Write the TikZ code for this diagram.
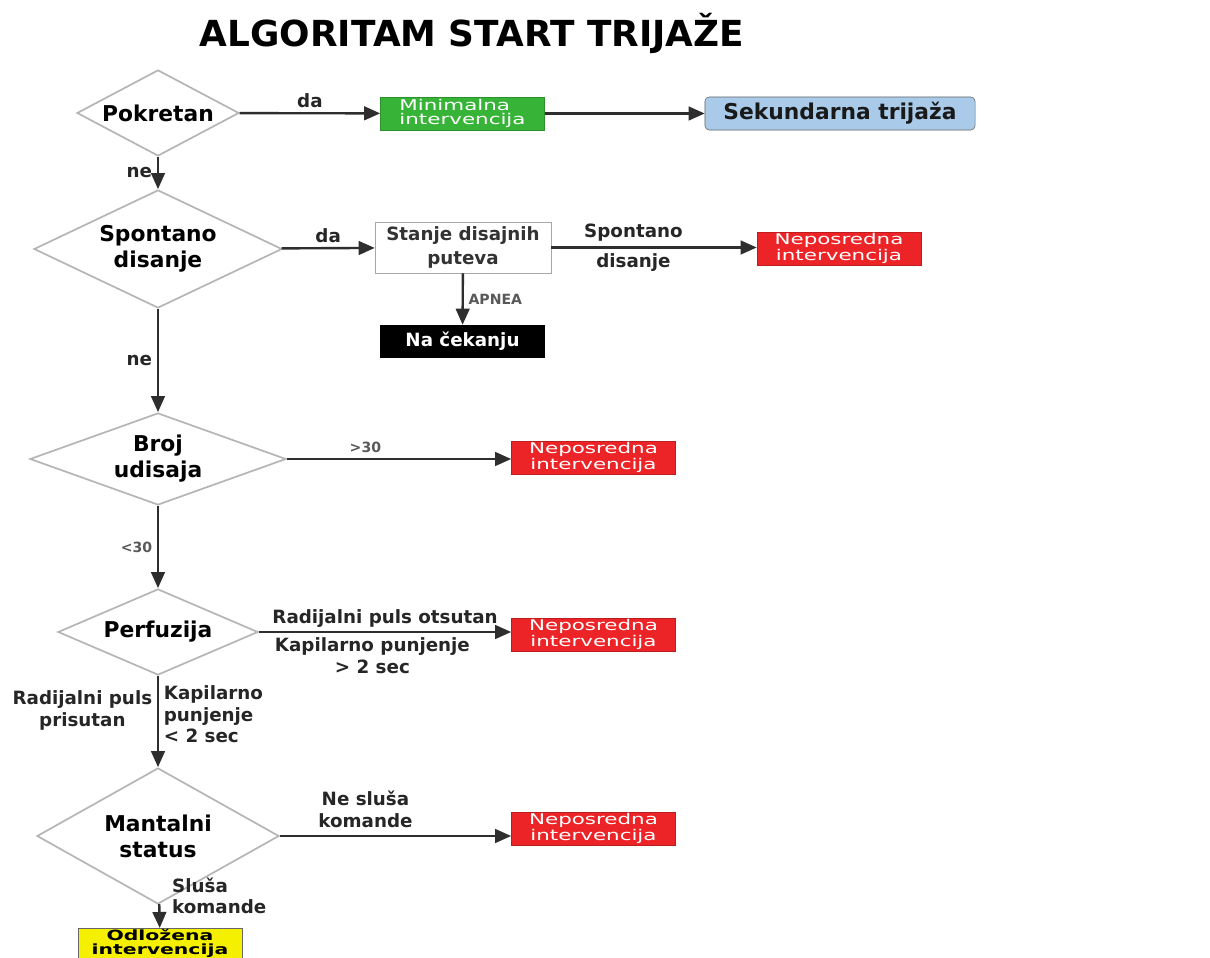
\documentclass[tikz,border=0pt]{standalone}
\usepackage{fontspec}
\setmainfont{DejaVu Sans}
\newfontfamily\boxfont[FakeStretch=1.45]{DejaVu Sans}
\usetikzlibrary{arrows.meta, shapes.geometric}
\definecolor{diagray}{HTML}{B5B5B5}
\definecolor{linegray}{HTML}{2E2E2E}
\definecolor{tagred}{HTML}{EC2427}
\definecolor{taggreen}{HTML}{37B437}
\definecolor{tagblue}{HTML}{A9CBE9}
\definecolor{tagyellow}{HTML}{F4F000}
\tikzset{
  decision/.style={diamond, draw=diagray, line width=1.2pt, fill=white,
                   align=center, inner sep=0pt,
                   font=\bfseries\fontsize{15.5}{18.5}\selectfont},
  tag/.style={rectangle, minimum width=4.1cm, minimum height=0.825cm,
              inner sep=1pt, align=center, text=white,
              font=\boxfont\fontsize{10.5}{10}\selectfont},
  redtag/.style={tag, fill=tagred, draw=tagred!80!black},
  flow/.style={-{Triangle[length=4mm, width=3.4mm]}, line width=1.7pt, draw=linegray},
  lbl/.style={font=\bfseries\fontsize{13}{15.5}\selectfont, text=black!85},
  thinlbl/.style={font=\bfseries\fontsize{10}{12}\selectfont, text=black!65},
}

\begin{document}
\begin{tikzpicture}[x=0.025cm, y=-0.025cm]
  \clip (0,0) rectangle (1210,958);
  \fill[white] (0,0) rectangle (1210,958);
  \node[font=\bfseries\fontsize{25.5}{30}\selectfont] (title) at (472,33) {ALGORITAM START TRIJAŽE};

  % odluke
  \node[decision, aspect=1.9, minimum width=4.05cm, minimum height=2.15cm] (pokretan) at (158,113) {Pokretan};
  \node[decision, aspect=2.1, minimum width=6.2cm, minimum height=2.95cm] (spontano) at (158,249) {Spontano\\disanje};
  \node[decision, aspect=2.8, minimum width=6.4cm, minimum height=2.3cm] (broj) at (158,459) {Broj\\udisaja};
  \node[decision, aspect=2.35, minimum width=5cm, minimum height=2.15cm] (perfuzija) at (158,632) {Perfuzija};
  \node[decision, aspect=1.77, minimum width=6.05cm, minimum height=3.4cm] (mantalni) at (158,836) {Mantalni\\status};

  % ishodi
  \node[tag, fill=taggreen, draw=taggreen!80!black, align=left] (minimalna) at (462.5,113.5) {Minimalna\\intervencija};
  \node[tag, fill=tagblue, draw=black!60, rounded corners=3pt, minimum width=6.75cm,
        text=black!90, font=\bfseries\fontsize{15.5}{18}\selectfont] (sekundarna) at (840,113.5) {Sekundarna trijaža};
  \node[tag, fill=white, draw=black!35, minimum width=4.4cm, minimum height=1.275cm, text=black!80,
        font=\bfseries\fontsize{13}{17}\selectfont] (stanje) at (463,247.5) {Stanje disajnih\\puteva};
  \node[redtag] (nep1) at (839,248.5) {Neposredna\\intervencija};
  \node[tag, fill=black, font=\bfseries\fontsize{13}{15}\selectfont] (cekanje) at (462.5,341.5) {Na čekanju};
  \node[redtag] (nep2) at (593.5,457.5) {Neposredna\\intervencija};
  \node[redtag] (nep3) at (593.5,634.5) {Neposredna\\intervencija};
  \node[redtag] (nep4) at (593.5,828.5) {Neposredna\\intervencija};
  \node[tag, fill=tagyellow, draw=black!60, text=black, font=\boxfont\bfseries\fontsize{10}{9.6}\selectfont,
        minimum height=0.75cm, anchor=north] (odlozena) at (160,928) {Odložena\\intervencija};

  % veze
  \draw[flow] (pokretan) -- node[lbl, above] {da} (minimalna);
  \draw[flow] (minimalna) -- (sekundarna);
  \draw[flow] (pokretan) -- node[lbl, left] {ne} (spontano);
  \draw[flow] (spontano) -- node[lbl, above] {da} (stanje);
  \draw[flow] (stanje.east) -- node[lbl, pos=0.4, above] {Spontano}
                          node[lbl, pos=0.4, below] {disanje} (stanje.east -| nep1.west);
  \draw[flow] (stanje) -- node[thinlbl, right] {APNEA} (cekanje);
  \draw[flow] (spontano) -- node[lbl, left] {ne} (broj);
  \draw[flow] (broj.east) -- node[thinlbl, pos=0.35, above] {>30} (broj.east -| nep2.west);
  \draw[flow] (broj) -- node[thinlbl, left] {<30} (perfuzija);
  \draw[flow] (perfuzija.east) -- node[lbl, above=-1pt] {Radijalni puls otsutan}
                          node[lbl, below, align=center, pos=0.45] {Kapilarno punjenje\\> 2 sec} (perfuzija.east -| nep3.west);
  \draw[flow] (perfuzija) -- node[lbl, left, align=center, pos=0.38] {Radijalni puls\\prisutan}
                          node[lbl, right, align=left, pos=0.42] {Kapilarno\\punjenje\\< 2 sec} (mantalni);
  \draw[flow] (mantalni.east) -- node[lbl, above=2pt, align=center, pos=0.37] {Ne sluša\\komande} (mantalni.east -| nep4.west);
  \draw[flow] (mantalni) -- node[lbl, pos=0, anchor=west, align=left, xshift=5pt, yshift=6pt] {Sluša\\komande} (odlozena);
\end{tikzpicture}
\end{document}
